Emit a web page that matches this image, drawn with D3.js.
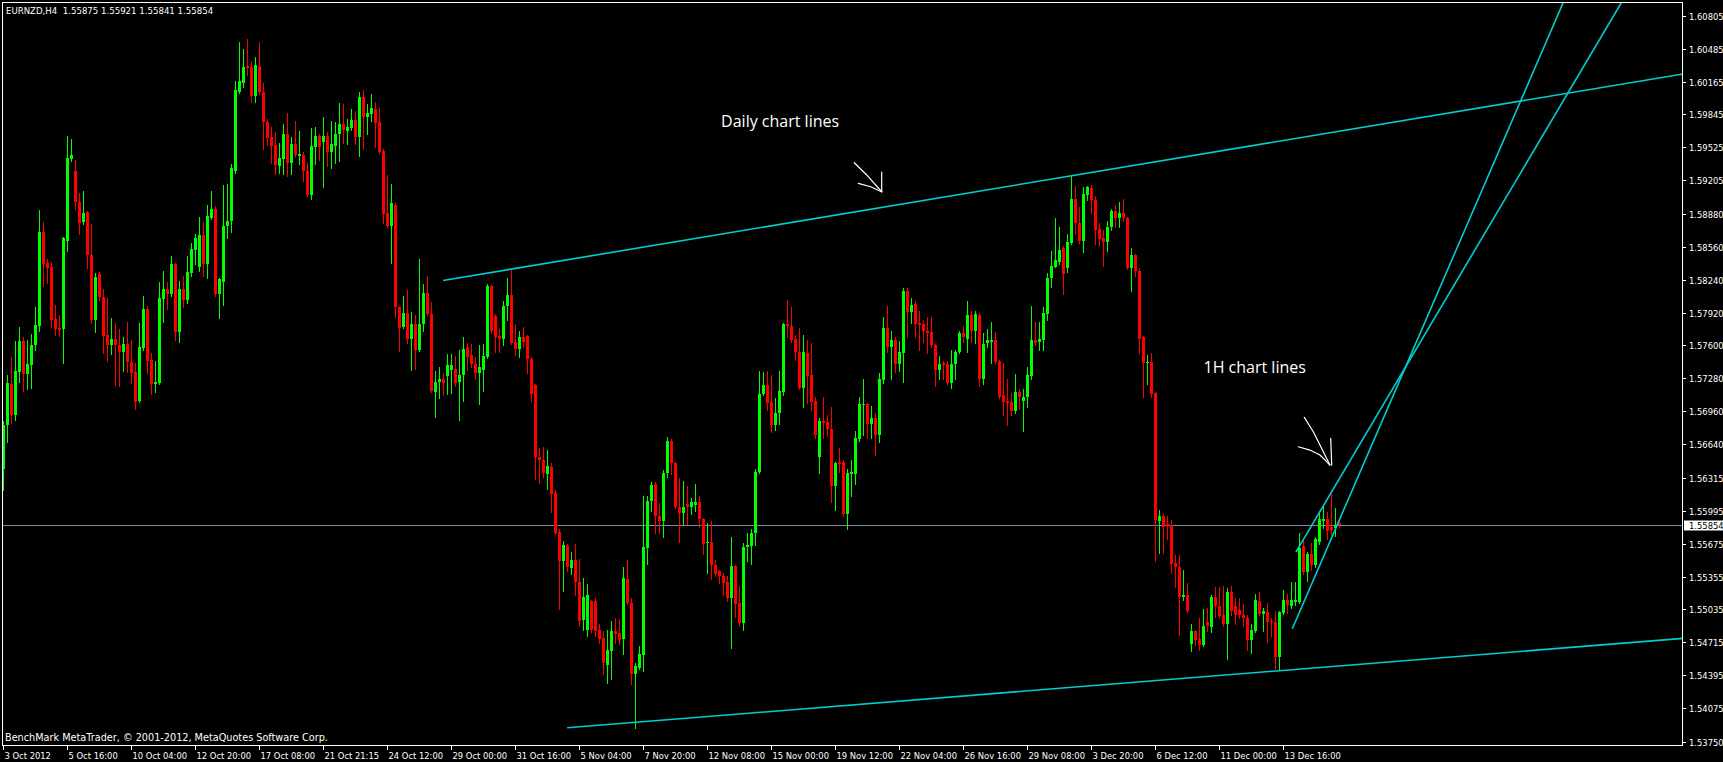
<!DOCTYPE html>
<html><head><meta charset="utf-8">
<script src="https://cdn.jsdelivr.net/npm/d3@7"></script>
<style>
html,body{margin:0;padding:0;background:#000;overflow:hidden;}
svg{display:block;}
text{font-family:"DejaVu Sans",sans-serif;}
</style></head><body>
<svg id="chart" width="1723" height="762"></svg>
<script>
// ---------- DATA ----------
const symbolLabel = "EURNZD,H4";
const lastQuote = [1.55875, 1.55921, 1.55841, 1.55854];
const currentPrice = 1.55854;
const footerText = "BenchMark MetaTrader, \u00A9 2001-2012, MetaQuotes Software Corp.";

const open = [
1.5640,1.5683,1.5723,1.5692,1.5734,1.5764,1.5732,1.5741,1.5760,1.5779,
1.5870,1.5840,1.5836,1.5786,1.5777,1.5776,1.5862,1.5941,1.5930,1.5899,
1.5880,1.5890,1.5848,1.5785,1.5829,1.5807,1.5770,1.5760,1.5766,1.5760,
1.5754,1.5761,1.5744,1.5734,1.5706,1.5758,1.5795,1.5746,1.5723,1.5724,
1.5805,1.5815,1.5810,1.5839,1.5773,1.5815,1.5804,1.5830,1.5853,1.5836,
1.5867,1.5839,1.5884,1.5893,1.5810,1.5822,1.5876,1.5881,1.5930,1.6006,
1.6015,1.6032,1.6031,1.6002,1.6032,1.6006,1.5977,1.5963,1.5955,1.5934,
1.5941,1.5966,1.5937,1.5956,1.5944,1.5945,1.5930,1.5906,1.5953,1.5964,
1.5958,1.5964,1.5948,1.5954,1.5966,1.5975,1.5968,1.5971,1.5979,1.5963,
1.6001,1.5982,1.5985,1.5990,1.5977,1.5949,1.5889,1.5876,1.5897,1.5797,
1.5778,1.5792,1.5766,1.5781,1.5756,1.5781,1.5811,1.5791,1.5715,1.5725,
1.5727,1.5730,1.5736,1.5737,1.5725,1.5731,1.5759,1.5751,1.5742,1.5733,
1.5736,1.5749,1.5818,1.5789,1.5769,1.5766,1.5798,1.5809,1.5763,1.5757,
1.5768,1.5769,1.5747,1.5722,1.5652,1.5649,1.5635,1.5642,1.5617,1.5579,
1.5551,1.5565,1.5544,1.5552,1.5530,1.5493,1.5484,1.5512,1.5512,1.5484,
1.5476,1.5450,1.5463,1.5483,1.5481,1.5475,1.5533,1.5510,1.5441,1.5447,
1.5459,1.5563,1.5609,1.5625,1.5594,1.5589,1.5636,1.5667,1.5646,1.5603,
1.5597,1.5606,1.5603,1.5605,1.5608,1.5591,1.5568,1.5569,1.5547,1.5541,
1.5536,1.5530,1.5515,1.5546,1.5510,1.5490,1.5564,1.5565,1.5578,1.5637,
1.5713,1.5722,1.5705,1.5683,1.5694,1.5715,1.5781,1.5779,1.5766,1.5754,
1.5719,1.5753,1.5731,1.5706,1.5652,1.5687,1.5686,1.5679,1.5623,1.5647,
1.5647,1.5596,1.5635,1.5635,1.5669,1.5702,1.5703,1.5684,1.5690,1.5673,
1.5726,1.5777,1.5759,1.5765,1.5742,1.5753,1.5813,1.5793,1.5800,1.5782,
1.5781,1.5774,1.5773,1.5760,1.5736,1.5743,1.5742,1.5724,1.5742,1.5754,
1.5772,1.5766,1.5790,1.5774,1.5790,1.5727,1.5762,1.5763,1.5765,1.5745,
1.5712,1.5706,1.5705,1.5696,1.5715,1.5706,1.5710,1.5730,1.5765,1.5763,
1.5765,1.5791,1.5826,1.5836,1.5841,1.5855,1.5835,1.5860,1.5902,1.5879,
1.5862,1.5906,1.5913,1.5901,1.5873,1.5864,1.5861,1.5875,1.5891,1.5884,
1.5889,1.5884,1.5835,1.5848,1.5832,1.5768,1.5743,1.5744,1.5714,1.5589,
1.5594,1.5587,1.5586,1.5549,1.5545,1.5516,1.5518,1.5470,1.5483,1.5475,
1.5469,1.5491,1.5486,1.5516,1.5507,1.5498,1.5489,1.5520,1.5507,1.5503,
1.5498,1.5495,1.5474,1.5483,1.5512,1.5499,1.5501,1.5492,1.5491,1.5457,
1.5500,1.5513,1.5507,1.5511,1.5511,1.5565,1.5540,1.5557,1.5547,1.5569,
1.5589,1.5591,1.5584,1.5583,1.55875];

const high = [
1.5687,1.5731,1.5749,1.5764,1.5778,1.5768,1.5765,1.5771,1.5797,1.5892,
1.5880,1.5844,1.5841,1.5799,1.5790,1.5865,1.5964,1.5961,1.5940,1.5908,
1.5910,1.5891,1.5878,1.5830,1.5831,1.5815,1.5806,1.5787,1.5782,1.5776,
1.5768,1.5783,1.5765,1.5743,1.5782,1.5808,1.5798,1.5753,1.5745,1.5822,
1.5832,1.5822,1.5847,1.5840,1.5823,1.5828,1.5847,1.5860,1.5868,1.5885,
1.5880,1.5897,1.5910,1.5896,1.5826,1.5916,1.5917,1.5936,1.6017,1.6055,
1.6048,1.6058,1.6036,1.6040,1.6055,1.6015,1.5980,1.5972,1.5967,1.5957,
1.5975,1.5986,1.5963,1.5978,1.5968,1.5948,1.5937,1.5971,1.5972,1.5966,
1.5982,1.5967,1.5978,1.5977,1.5996,1.5995,1.5980,1.5990,1.5988,1.6006,
1.6008,1.5995,1.6004,1.5997,1.5991,1.5951,1.5926,1.5917,1.5898,1.5798,
1.5808,1.5814,1.5793,1.5790,1.5844,1.5820,1.5828,1.5802,1.5735,1.5739,
1.5733,1.5752,1.5752,1.5750,1.5756,1.5768,1.5762,1.5761,1.5749,1.5760,
1.5761,1.5820,1.5819,1.5791,1.5776,1.5803,1.5826,1.5833,1.5781,1.5774,
1.5778,1.5770,1.5749,1.5723,1.5660,1.5661,1.5658,1.5646,1.5620,1.5582,
1.5570,1.5567,1.5559,1.5567,1.5553,1.5534,1.5528,1.5513,1.5515,1.5489,
1.5483,1.5484,1.5492,1.5495,1.5494,1.5545,1.5552,1.5515,1.5451,1.5468,
1.5614,1.5614,1.5627,1.5627,1.5607,1.5639,1.5671,1.5669,1.5647,1.5631,
1.5628,1.5623,1.5612,1.5625,1.5614,1.5592,1.5588,1.5589,1.5552,1.5542,
1.5539,1.5536,1.5574,1.5547,1.5526,1.5568,1.5578,1.5582,1.5640,1.5735,
1.5734,1.5735,1.5731,1.5709,1.5735,1.5782,1.5804,1.5797,1.5770,1.5777,
1.5770,1.5765,1.5762,1.5710,1.5690,1.5710,1.5692,1.5700,1.5647,1.5660,
1.5649,1.5640,1.5649,1.5677,1.5710,1.5727,1.5704,1.5701,1.5694,1.5733,
1.5788,1.5798,1.5774,1.5768,1.5764,1.5816,1.5816,1.5806,1.5803,1.5794,
1.5785,1.5788,1.5788,1.5761,1.5750,1.5745,1.5745,1.5756,1.5756,1.5774,
1.5779,1.5803,1.5794,1.5794,1.5792,1.5772,1.5776,1.5783,1.5773,1.5746,
1.5743,1.5727,1.5714,1.5732,1.5718,1.5718,1.5739,1.5798,1.5783,1.5783,
1.5797,1.5830,1.5852,1.5884,1.5875,1.5857,1.5868,1.5926,1.5915,1.5895,
1.5914,1.5915,1.5916,1.5905,1.5879,1.5872,1.5881,1.5893,1.5897,1.5899,
1.5902,1.5885,1.5855,1.5849,1.5835,1.5769,1.5751,1.5753,1.5715,1.5600,
1.5596,1.5594,1.5590,1.5556,1.5556,1.5542,1.5529,1.5489,1.5484,1.5495,
1.5504,1.5505,1.5518,1.5525,1.5525,1.5526,1.5524,1.5526,1.5515,1.5515,
1.5509,1.5498,1.5489,1.5519,1.5520,1.5505,1.5510,1.5495,1.5502,1.5502,
1.5522,1.5519,1.5530,1.5530,1.5578,1.5571,1.5559,1.5568,1.5574,1.5597,
1.5603,1.5598,1.5616,1.5602,1.55921];

const low = [
1.5620,1.5666,1.5685,1.5688,1.5725,1.5716,1.5718,1.5719,1.5756,1.5774,
1.5818,1.5821,1.5778,1.5770,1.5769,1.5743,1.5852,1.5939,1.5893,1.5868,
1.5878,1.5835,1.5782,1.5773,1.5804,1.5753,1.5745,1.5752,1.5722,1.5721,
1.5735,1.5734,1.5724,1.5698,1.5705,1.5756,1.5733,1.5713,1.5715,1.5723,
1.5783,1.5795,1.5808,1.5765,1.5763,1.5797,1.5801,1.5828,1.5839,1.5832,
1.5828,1.5826,1.5883,1.5808,1.5787,1.5799,1.5864,1.5870,1.5928,1.6005,
1.6011,1.6023,1.5997,1.5997,1.6004,1.5951,1.5955,1.5937,1.5927,1.5928,
1.5927,1.5925,1.5927,1.5943,1.5936,1.5920,1.5905,1.5902,1.5936,1.5940,
1.5914,1.5934,1.5932,1.5937,1.5939,1.5957,1.5956,1.5969,1.5956,1.5944,
1.5951,1.5966,1.5978,1.5953,1.5947,1.5879,1.5875,1.5840,1.5788,1.5755,
1.5777,1.5762,1.5736,1.5737,1.5755,1.5774,1.5790,1.5715,1.5691,1.5709,
1.5712,1.5713,1.5714,1.5721,1.5688,1.5706,1.5736,1.5739,1.5727,1.5703,
1.5716,1.5748,1.5772,1.5754,1.5754,1.5760,1.5785,1.5761,1.5751,1.5749,
1.5759,1.5733,1.5706,1.5630,1.5626,1.5632,1.5621,1.5598,1.5577,1.5504,
1.5521,1.5541,1.5538,1.5518,1.5487,1.5484,1.5478,1.5482,1.5478,1.5471,
1.5441,1.5432,1.5436,1.5471,1.5470,1.5460,1.5509,1.5431,1.5388,1.5446,
1.5444,1.5548,1.5599,1.5578,1.5578,1.5574,1.5632,1.5635,1.5602,1.5569,
1.5587,1.5587,1.5596,1.5599,1.5584,1.5557,1.5539,1.5533,1.5536,1.5529,
1.5518,1.5512,1.5466,1.5496,1.5487,1.5484,1.5551,1.5548,1.5566,1.5636,
1.5712,1.5697,1.5676,1.5678,1.5684,1.5712,1.5768,1.5763,1.5746,1.5718,
1.5700,1.5704,1.5697,1.5670,1.5636,1.5670,1.5672,1.5608,1.5600,1.5637,
1.5594,1.5582,1.5614,1.5625,1.5667,1.5673,1.5670,1.5670,1.5654,1.5666,
1.5724,1.5754,1.5727,1.5734,1.5735,1.5725,1.5768,1.5782,1.5768,1.5756,
1.5763,1.5753,1.5759,1.5721,1.5727,1.5727,1.5723,1.5719,1.5727,1.5753,
1.5763,1.5754,1.5763,1.5762,1.5721,1.5723,1.5759,1.5743,1.5743,1.5709,
1.5692,1.5683,1.5692,1.5694,1.5698,1.5677,1.5700,1.5727,1.5760,1.5756,
1.5756,1.5785,1.5817,1.5836,1.5839,1.5810,1.5831,1.5859,1.5868,1.5860,
1.5851,1.5901,1.5889,1.5859,1.5857,1.5837,1.5852,1.5872,1.5875,1.5875,
1.5881,1.5834,1.5813,1.5828,1.5753,1.5710,1.5723,1.5710,1.5551,1.5558,
1.5558,1.5572,1.5539,1.5525,1.5479,1.5513,1.5501,1.5463,1.5469,1.5464,
1.5468,1.5483,1.5482,1.5496,1.5496,1.5487,1.5455,1.5498,1.5489,1.5495,
1.5487,1.5464,1.5461,1.5482,1.5498,1.5483,1.5472,1.5478,1.5446,1.5446,
1.5499,1.5500,1.5505,1.5508,1.5510,1.5538,1.5531,1.5542,1.5545,1.5567,
1.5583,1.5572,1.5576,1.5575,1.55841];

const close = [
1.5683,1.5724,1.5692,1.5735,1.5764,1.5732,1.5742,1.5760,1.5780,1.5870,
1.5839,1.5835,1.5785,1.5776,1.5775,1.5864,1.5942,1.5945,1.5899,1.5879,
1.5889,1.5848,1.5785,1.5827,1.5807,1.5769,1.5760,1.5766,1.5760,1.5754,
1.5761,1.5744,1.5733,1.5705,1.5759,1.5795,1.5745,1.5723,1.5725,1.5806,
1.5815,1.5810,1.5839,1.5773,1.5815,1.5804,1.5831,1.5854,1.5864,1.5867,
1.5839,1.5886,1.5893,1.5810,1.5825,1.5876,1.5881,1.5932,1.6008,1.6017,
1.6031,1.6030,1.6002,1.6033,1.6006,1.5977,1.5962,1.5954,1.5935,1.5942,
1.5966,1.5937,1.5956,1.5945,1.5946,1.5930,1.5906,1.5954,1.5964,1.5953,
1.5964,1.5948,1.5956,1.5966,1.5975,1.5969,1.5972,1.5979,1.5963,1.6001,
1.5982,1.5986,1.5991,1.5976,1.5948,1.5888,1.5876,1.5898,1.5797,1.5777,
1.5792,1.5766,1.5781,1.5756,1.5781,1.5811,1.5791,1.5716,1.5725,1.5727,
1.5724,1.5741,1.5741,1.5724,1.5731,1.5757,1.5749,1.5742,1.5733,1.5739,
1.5750,1.5818,1.5774,1.5768,1.5766,1.5798,1.5809,1.5762,1.5757,1.5768,
1.5763,1.5747,1.5713,1.5652,1.5649,1.5636,1.5643,1.5616,1.5578,1.5551,
1.5566,1.5545,1.5552,1.5530,1.5492,1.5516,1.5518,1.5484,1.5483,1.5475,
1.5451,1.5464,1.5483,1.5480,1.5474,1.5534,1.5510,1.5441,1.5449,1.5460,
1.5564,1.5609,1.5624,1.5594,1.5589,1.5636,1.5667,1.5646,1.5603,1.5597,
1.5603,1.5603,1.5608,1.5608,1.5591,1.5567,1.5569,1.5547,1.5538,1.5536,
1.5529,1.5515,1.5546,1.5509,1.5490,1.5564,1.5566,1.5578,1.5637,1.5713,
1.5722,1.5704,1.5683,1.5694,1.5716,1.5781,1.5779,1.5765,1.5754,1.5719,
1.5754,1.5730,1.5705,1.5673,1.5687,1.5685,1.5679,1.5623,1.5646,1.5645,
1.5596,1.5636,1.5637,1.5670,1.5703,1.5703,1.5684,1.5690,1.5673,1.5727,
1.5777,1.5759,1.5765,1.5742,1.5754,1.5813,1.5793,1.5799,1.5781,1.5780,
1.5774,1.5772,1.5760,1.5736,1.5742,1.5741,1.5724,1.5742,1.5754,1.5772,
1.5768,1.5790,1.5774,1.5791,1.5727,1.5761,1.5765,1.5765,1.5744,1.5710,
1.5705,1.5704,1.5696,1.5715,1.5710,1.5710,1.5731,1.5765,1.5762,1.5766,
1.5792,1.5826,1.5837,1.5843,1.5853,1.5829,1.5861,1.5902,1.5879,1.5862,
1.5907,1.5914,1.5901,1.5872,1.5863,1.5861,1.5875,1.5891,1.5884,1.5889,
1.5884,1.5835,1.5848,1.5832,1.5766,1.5743,1.5744,1.5713,1.5590,1.5594,
1.5584,1.5585,1.5548,1.5545,1.5516,1.5518,1.5502,1.5483,1.5474,1.5469,
1.5487,1.5487,1.5516,1.5507,1.5497,1.5489,1.5520,1.5502,1.5498,1.5498,
1.5495,1.5474,1.5484,1.5513,1.5499,1.5502,1.5491,1.5491,1.5457,1.5501,
1.5513,1.5508,1.5513,1.5513,1.5563,1.5540,1.5557,1.5547,1.5572,1.5591,
1.5591,1.5580,1.5581,1.5586,1.55854];

const xTickBars = [0,16,32,48,64,80,96,112,128,144,160,176,192,208,224,240,256,272,288,304,320];
const xTickLabels = ["3 Oct 2012","5 Oct 16:00","10 Oct 04:00","12 Oct 20:00","17 Oct 08:00","21 Oct 21:15",
  "24 Oct 12:00","29 Oct 00:00","31 Oct 16:00","5 Nov 04:00","7 Nov 20:00","12 Nov 08:00","15 Nov 00:00",
  "19 Nov 12:00","22 Nov 04:00","26 Nov 16:00","29 Nov 08:00","3 Dec 20:00","6 Dec 12:00","11 Dec 00:00","13 Dec 16:00"];
const yTickValues = [1.60805,1.60485,1.60165,1.59845,1.59525,1.59205,1.58880,1.58560,1.58240,1.57920,1.57600,
  1.57280,1.56960,1.56640,1.56315,1.55995,1.55675,1.55355,1.55035,1.54715,1.54395,1.54075,1.53750];

// trend lines: two anchor points [bar, price], drawn as rays to the right
const dailyUpperLine = [[109.9, 1.58232], [419.8, 1.60238]];
const dailyLowerLine = [[140.9, 1.53885], [419.8, 1.54754]];
const hourUpperLine  = [[323.1, 1.55592], [379.2, 1.59273]];
const hourLowerLine  = [[322.2, 1.54848], [379.2, 1.59969]];

// annotations [bar, price]
const dailyText = {label: "Daily chart lines", at: [179.4, 1.59723]};
const hourText  = {label: "1H chart lines", at: [300.0, 1.57336]};
const arrow1Strokes = [
  [[212.7, 1.59376], [215.8, 1.59257], [219.55, 1.59094]],
  [[213.7, 1.59175], [216.8, 1.59143], [219.1, 1.59101], [219.55, 1.59094]],
  [[219.55, 1.59286], [219.55, 1.59094]]
];
const arrow2Strokes = [
  [[325.2, 1.56902], [327.45, 1.56762], [329.95, 1.56568], [331.6, 1.56438]],
  [[323.7, 1.56616], [326.6, 1.56584], [329.1, 1.56536], [330.4, 1.56487], [331.6, 1.56438]],
  [[331.8, 1.56698], [332.05, 1.56438]]
];

// ---------- DRAW ----------
const W = 1723, H = 762;
const plot = {left: 2.5, top: 2.5, right: 1682.5, bottom: 745.5};
const svg = d3.select("#chart");
svg.append("rect").attr("width", W).attr("height", H).attr("fill", "#000");

const x = d3.scaleLinear().domain([0, 420]).range([3.5, 1683.5]);
const y = d3.scaleLinear().domain([1.53750, 1.60805]).range([741.7, 15.67]);

svg.append("defs").append("clipPath").attr("id", "plotclip")
  .append("rect").attr("x", plot.left).attr("y", plot.top)
  .attr("width", plot.right - plot.left).attr("height", plot.bottom - plot.top);

const UP = "#00ff00", DOWN = "#ff0000", CYAN = "#00ced1";

// current price line
svg.append("line")
  .attr("x1", plot.left).attr("x2", plot.right)
  .attr("y1", Math.floor(y(currentPrice)) + 0.5).attr("y2", Math.floor(y(currentPrice)) + 0.5)
  .attr("stroke", "#7f8aa6").attr("stroke-width", 1);

// candles
const bars = d3.range(open.length).map(i => ({i, o: open[i], h: high[i], l: low[i], c: close[i]}));
const cg = svg.append("g").attr("clip-path", "url(#plotclip)").attr("shape-rendering", "crispEdges");
const cand = cg.selectAll("g.c").data(bars).join("g").attr("class", "c");
cand.append("rect")
  .attr("x", d => Math.round(x(d.i) - 0.5))
  .attr("width", 1)
  .attr("y", d => Math.round(y(d.h)))
  .attr("height", d => Math.max(1, Math.round(y(d.l)) - Math.round(y(d.h)) + 1))
  .attr("fill", d => d.c >= d.o ? UP : DOWN);
cand.append("rect")
  .attr("x", d => Math.round(x(d.i) - 1.5))
  .attr("width", 3)
  .attr("y", d => Math.round(y(Math.max(d.o, d.c))))
  .attr("height", d => Math.max(1, Math.round(y(Math.min(d.o, d.c))) - Math.round(y(Math.max(d.o, d.c)))))
  .attr("fill", d => d.c >= d.o ? UP : DOWN);

// trend lines (rays)
function ray(pts) {
  const [[b1, p1], [b2, p2]] = pts;
  const bEnd = 430;
  const pEnd = p1 + (p2 - p1) * (bEnd - b1) / (b2 - b1);
  return [[b1, p1], [bEnd, pEnd]];
}
const lineGen = d3.line().x(d => x(d[0])).y(d => y(d[1]));
const lg = svg.append("g").attr("clip-path", "url(#plotclip)");
[dailyUpperLine, dailyLowerLine, hourUpperLine, hourLowerLine].forEach(l => {
  lg.append("path").attr("d", lineGen(ray(l)))
    .attr("fill", "none").attr("stroke", CYAN).attr("stroke-width", 1.6);
});

// annotations
const ag = svg.append("g").attr("clip-path", "url(#plotclip)");
[...arrow1Strokes, ...arrow2Strokes].forEach(s => {
  ag.append("path").attr("d", lineGen(s)).attr("fill", "none")
    .attr("stroke", "#fff").attr("stroke-width", 1.2).attr("stroke-linecap", "round");
});
[dailyText, hourText].forEach(t => {
  ag.append("text").attr("x", x(t.at[0])).attr("y", y(t.at[1]))
    .attr("fill", "#fff").style("font-family", "'Open Sans', sans-serif").style("font-size", "16px")
    .text(t.label);
});

// frame
svg.append("rect").attr("x", plot.left).attr("y", plot.top)
  .attr("width", plot.right - plot.left).attr("height", plot.bottom - plot.top)
  .attr("fill", "none").attr("stroke", "#fff").attr("stroke-width", 1).attr("shape-rendering", "crispEdges");

// header and footer
svg.append("text").attr("x", 6).attr("y", 14).attr("fill", "#fff").style("font-size", "8.6px")
  .attr("xml:space", "preserve")
  .text(symbolLabel + "  " + lastQuote.map(v => v.toFixed(5)).join(" "));
svg.append("text").attr("x", 5).attr("y", 741).attr("fill", "#fff").style("font-size", "9.7px")
  .text(footerText);

// y axis (right)
const yAxisG = svg.append("g");
yTickValues.forEach(v => {
  const yy = Math.round(y(v)) + 0.5;
  yAxisG.append("line").attr("x1", 1683).attr("x2", 1686).attr("y1", yy).attr("y2", yy)
    .attr("stroke", "#fff").attr("shape-rendering", "crispEdges");
  yAxisG.append("text").attr("x", 1689).attr("y", yy + 3).attr("fill", "#fff")
    .style("font-size", "8.4px").text(v.toFixed(5));
});
// current price label
const cpY = Math.floor(y(currentPrice)) + 0.5;
yAxisG.append("rect").attr("x", 1684).attr("y", cpY - 5).attr("width", 39).attr("height", 10).attr("fill", "#fff");
yAxisG.append("text").attr("x", 1689).attr("y", cpY + 3).attr("fill", "#000")
  .style("font-size", "8.4px").text(currentPrice.toFixed(5));

// x axis (bottom)
const xAxisG = svg.append("g");
xTickBars.forEach((b, k) => {
  const xx = Math.round(x(b) - 0.5) + 0.5;
  xAxisG.append("line").attr("x1", xx).attr("x2", xx).attr("y1", 746).attr("y2", 750)
    .attr("stroke", "#fff").attr("shape-rendering", "crispEdges");
  xAxisG.append("text").attr("x", xx + 1).attr("y", 758.5).attr("fill", "#fff")
    .style("font-size", "8.4px").text(xTickLabels[k]);
});
</script>
</body></html>
